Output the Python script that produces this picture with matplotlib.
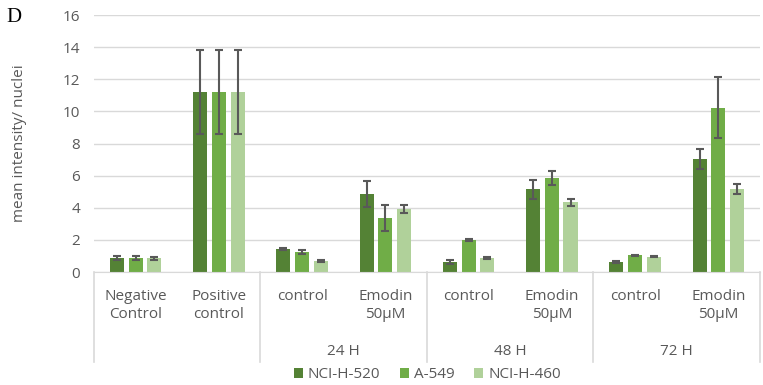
import matplotlib.pyplot as plt
import matplotlib.transforms as mtransforms
import numpy as np

# data
categories = ["Negative\nControl", "Positive\ncontrol", "control", "Emodin\n50µM",
              "control", "Emodin\n50µM", "control", "Emodin\n50µM"]
groups = ["", "24 H", "48 H", "72 H"]
series = ["NCI-H-520", "A-549", "NCI-H-460"]
nci520 = [0.85, 11.2, 1.45, 4.85, 0.62, 5.15, 0.62, 7.05]
a549 = [0.85, 11.2, 1.25, 3.35, 2.0, 5.83, 1.04, 10.23]
nci460 = [0.85, 11.2, 0.7, 3.95, 0.89, 4.34, 0.95, 5.15]
err520 = [0.12, 2.6, 0.05, 0.82, 0.1, 0.6, 0.05, 0.62]
err549 = [0.12, 2.6, 0.15, 0.82, 0.05, 0.43, 0.04, 1.9]
err460 = [0.1, 2.6, 0.05, 0.25, 0.05, 0.2, 0.04, 0.3]

colors = ["#548235", "#70ad47", "#b0d19a"]
grey = "#595959"
linec = "#d9d9d9"

plt.rcParams['font.family'] = ['Open Sans', 'DejaVu Sans']

fig = plt.figure(figsize=(7.63, 3.85), dpi=100)
ax = fig.add_axes([0.1232, 0.2935, 0.8728, 0.6675])

x = np.arange(len(categories))
w = 0.17
step = 0.225
vals = [nci520, a549, nci460]
errs = [err520, err549, err460]
for i in range(3):
    ax.bar(x + (i - 1) * step, vals[i], w, color=colors[i], label=series[i], zorder=2)
    ax.errorbar(x + (i - 1) * step, vals[i], yerr=errs[i], fmt='none', ecolor=grey,
                elinewidth=1.5, capsize=3, capthick=1.5, zorder=3)

ax.set_xlim(-0.5, len(categories) - 0.5)
ax.set_ylim(0, 16)
ax.set_yticks(range(0, 17, 2))
ax.yaxis.grid(True, color=linec, lw=1, zorder=0)
ax.set_axisbelow(True)
for s in ["top", "right", "left"]:
    ax.spines[s].set_visible(False)
ax.spines["bottom"].set_color(linec)
ax.tick_params(axis='y', length=0, labelsize=11, labelcolor=grey, pad=10)
ax.set_xticks([])
ax.set_ylabel("mean intensity/ nuclei", fontsize=11, color=grey)
ax.yaxis.set_label_coords(-0.1, 0.5)

# multi-level category axis
trans = mtransforms.blended_transform_factory(ax.transData, ax.transAxes)
for xi, c in zip(x, categories):
    ax.text(xi, -0.065, c, transform=trans, ha='center', va='top', fontsize=11,
            color=grey, linespacing=1.3)
for gi, g in enumerate(groups[1:]):
    ax.text(2.5 + 2 * gi, -0.31, g, transform=trans, ha='center', va='center',
            fontsize=11, color=grey)
for xb in [-0.5, 1.5, 3.5, 5.5, 7.5]:
    ax.plot([xb, xb], [0, -0.352], transform=trans, color=linec, lw=1.2,
            clip_on=False)

fig.legend(loc='center', bbox_to_anchor=(0.56, 0.026), ncol=3, frameon=False,
           fontsize=11, handlelength=0.6, handleheight=0.6, handletextpad=0.3,
           columnspacing=1.3, labelcolor=grey)

fig.text(0.008, 0.955, "D", family="Liberation Serif", fontsize=15, color="black",
         va='center')

fig.savefig("out.png", dpi=100)
